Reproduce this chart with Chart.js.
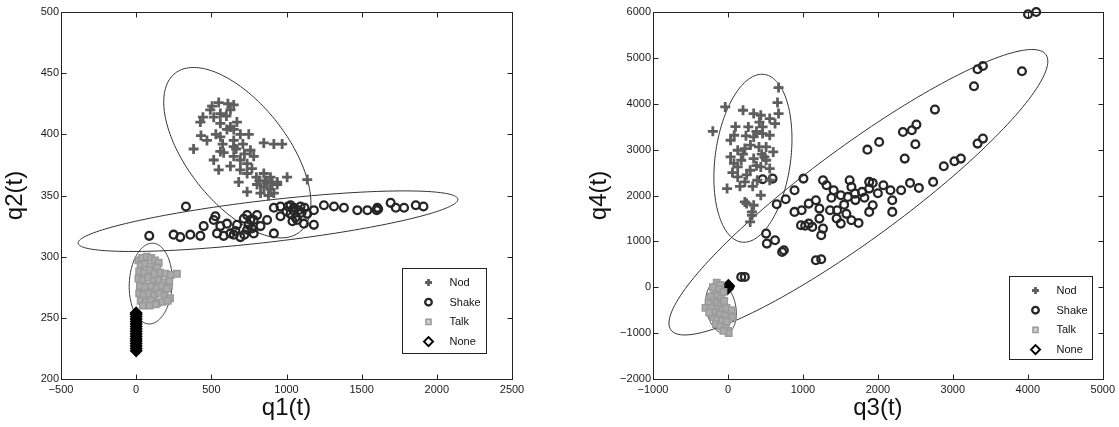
<!DOCTYPE html>
<html>
<head>
<meta charset="utf-8">
<title>q1-q2 / q3-q4 clusters</title>
<script src="https://cdn.jsdelivr.net/npm/chart.js@4.4.1/dist/chart.umd.min.js"></script>
<style>
    body { margin: 0; background: #fff; width: 1119px; height: 427px; overflow: hidden; position: relative; }
    .panel { position: absolute; top: 0; height: 427px; }
    #leftPanel { left: 0; width: 560px; }
    #rightPanel { left: 560px; width: 559px; }
</style>
</head>
<body>
<div class="panel" id="leftPanel"><canvas id="q12chart" width="560" height="427"></canvas></div>
<div class="panel" id="rightPanel"><canvas id="q34chart" width="559" height="427"></canvas></div>

<script>
"use strict";

/* ---- left panel: q1(t) vs q2(t) ---- */
var q1Ticks = [-500, 0, 500, 1000, 1500, 2000, 2500];
var q2Ticks = [200, 250, 300, 350, 400, 450, 500];

var nodQ12 = [
    [549, 426], [649, 424], [505, 423], [444, 414], [427, 410], [516, 414], [560, 409], [627, 406],
    [649, 404], [693, 400], [749, 400], [431, 399], [382, 388], [560, 398], [649, 395], [849, 393],
    [916, 392], [971, 392], [560, 386], [582, 385], [516, 379], [549, 371], [649, 382], [693, 379],
    [738, 376], [627, 374], [693, 371], [738, 368], [682, 361], [738, 353], [849, 368], [893, 365],
    [871, 361], [938, 361], [1004, 365], [849, 357], [893, 355], [827, 352], [938, 359], [916, 352],
    [1138, 363], [804, 359], [649, 390], [604, 404], [493, 420], [627, 420], [560, 417], [471, 395],
    [760, 387], [782, 382], [600, 415], [670, 410], [710, 392], [770, 372], [800, 365], [860, 362],
    [880, 350], [820, 362], [530, 400], [575, 392], [610, 425], [665, 388], [720, 384], [905, 360]
];
var shakeQ12 = [
    [331, 341], [527, 333], [738, 334], [916, 340], [960, 341], [1027, 342], [1049, 340], [1093, 341],
    [1182, 338], [1249, 342], [1316, 341], [1382, 340], [1471, 338], [1538, 338], [1604, 340], [1693, 344],
    [1727, 340], [1782, 340], [1860, 342], [1911, 341], [87, 317], [249, 318], [293, 316], [360, 318],
    [427, 317], [449, 325], [516, 330], [560, 325], [604, 327], [627, 319], [671, 326], [693, 316],
    [738, 322], [760, 330], [782, 319], [827, 325], [871, 330], [916, 319], [960, 333], [1027, 335],
    [1071, 330], [1116, 327], [1182, 326], [538, 319], [582, 317], [649, 318], [782, 330], [804, 334],
    [716, 331], [1049, 338], [1138, 335], [1000, 337], [1060, 332], [1100, 336], [1610, 339], [1600, 338],
    [750, 326], [770, 323], [720, 318], [1010, 341], [1080, 338], [1120, 340], [1040, 329], [660, 321]
];
var talkQ12 = [
    [15, 297], [40, 299], [70, 300], [100, 299], [125, 297], [150, 295], [30, 293], [60, 294],
    [95, 292], [140, 291], [20, 288], [55, 287], [90, 289], [120, 286], [160, 287], [195, 286],
    [230, 285], [271, 286], [15, 282], [45, 281], [80, 283], [115, 280], [150, 281], [185, 279],
    [220, 280], [25, 276], [60, 275], [100, 276], [135, 274], [170, 276], [205, 274], [20, 270],
    [50, 269], [85, 270], [120, 268], [155, 270], [190, 268], [225, 266], [30, 264], [65, 263],
    [100, 264], [140, 262], [175, 263], [210, 264], [45, 260], [90, 260], [130, 261]
];
var noneQ12 = [
    [0, 223], [0, 225], [0, 227], [0, 229], [0, 231], [0, 233], [0, 235], [0, 237],
    [0, 239], [0, 241], [0, 243], [0, 245], [0, 247], [0, 249], [0, 251], [0, 253], [0, 254]
];
/* covariance ellipses: centre x, centre y, conjugate half-axes (ux, uy) and (vx, vy), data units */
var ellipsesQ12 = [
    [673, 385, 413, -65, 263, 25],
    [877, 329, 1263, 18, 16, -17],
    [97, 278, 10, 33, 143, 0]
];

/* ---- right panel: q3(t) vs q4(t) ---- */
var q3Ticks = [-1000, 0, 1000, 2000, 3000, 4000, 5000];
var q4Ticks = [-2000, -1000, 0, 1000, 2000, 3000, 4000, 5000, 6000];

var nodQ34 = [
    [675, 4352], [-36, 3930], [-202, 3400], [661, 4025], [201, 3858], [343, 3785], [438, 3749], [557, 3676],
    [628, 3567], [675, 3785], [83, 3313], [343, 3276], [462, 3349], [557, 3313], [225, 3022], [414, 3058],
    [35, 2840], [177, 2768], [343, 2804], [486, 2840], [130, 2623], [296, 2550], [438, 2623], [557, 2586],
    [225, 2296], [391, 2332], [-12, 2150], [438, 2005], [225, 1860], [343, 1787], [320, 1642], [249, 1823],
    [320, 1569], [296, 1424], [130, 2986], [509, 3058], [272, 3494], [462, 3494], [35, 3204], [130, 2405],
    [557, 2332], [509, 2768], [604, 2949], [80, 2700], [200, 2900], [300, 3100], [380, 2650], [250, 2450],
    [160, 2200], [450, 2900], [100, 3500], [380, 3400], [60, 2500], [330, 2200], [420, 3600], [240, 3300]
];
var shakeQ34 = [
    [4003, 5950], [4112, 6001], [3922, 4708], [3282, 4381], [3330, 4751], [3401, 4824], [2761, 3872], [2334, 3385],
    [2453, 3422], [2514, 3545], [2500, 3117], [3330, 3131], [3401, 3240], [1860, 3000], [2017, 3167], [2358, 2804],
    [2879, 2637], [3021, 2746], [3107, 2804], [2737, 2296], [2547, 2165], [2429, 2274], [2310, 2114], [2168, 2114],
    [2073, 2223], [1931, 2274], [1884, 2150], [1789, 2078], [1694, 2041], [1647, 2187], [1599, 1969], [1505, 2005],
    [1410, 2114], [1315, 2223], [1268, 2332], [1173, 1896], [1220, 1714], [1078, 1823], [1007, 2368], [888, 2114],
    [770, 1918], [651, 1809], [595, 2368], [462, 2354], [1623, 2332], [1884, 2296], [2192, 1896], [1931, 1787],
    [1457, 1678], [888, 1642], [983, 1678], [509, 1170], [628, 1024], [519, 952], [723, 770], [746, 806],
    [974, 1351], [1078, 1387], [1125, 1315], [1244, 1133], [1268, 1279], [1173, 588], [1244, 610], [177, 225],
    [225, 225], [1505, 1387], [1647, 1460], [1742, 1402], [1884, 1642], [2192, 1642], [1220, 1496], [1362, 1678],
    [1550, 1800], [1580, 1600], [1700, 1900], [1450, 1500], [1380, 1950], [1820, 1950], [2000, 2050], [1030, 1340]
];
var talkQ34 = [
    [-150, 100], [-100, 50], [-200, 0], [-120, -50], [-60, -100], [-180, -150], [-230, -200], [-140, -200],
    [-90, -250], [-200, -300], [-260, -350], [-150, -350], [-100, -400], [-50, -300], [-300, -450], [-220, -450],
    [-130, -480], [-70, -500], [-180, -550], [-110, -600], [-40, -620], [-200, -650], [-140, -700], [-80, -720],
    [60, -650], [-20, -750], [-160, -800], [-100, -850], [-30, -900], [0, -950], [10, -1000], [-60, -950],
    [-250, -550], [-20, -450], [50, -500]
];
var noneQ34 = [[0, 0], [5, 40], [-5, -30], [10, 20]];
var ellipsesQ34 = [
    [333, 2812, 120, 1831, 507, 0],
    [1740, 2071, 2527, 2853, 0, -1242],
    [-93, -447, -45, 563, 200, 0]
];

Chart.defaults.font.family = "'Liberation Sans', Arial, Helvetica, sans-serif";
Chart.defaults.color = '#1a1a1a';

function minusLabel(v) {
    return v < 0 ? '\u2212' + Math.abs(v) : String(v);
}

/* ellipses, boxed frame with inward ticks, and the in-plot legend */
var matlabLook = {
    id: 'matlabLook',
    beforeDatasetsDraw: function (chart, args, opts) {
        var ctx = chart.ctx, xs = chart.scales.x, ys = chart.scales.y;
        ctx.save();
        ctx.strokeStyle = '#333';
        ctx.lineWidth = 1;
        opts.ellipses.forEach(function (e) {
            ctx.beginPath();
            for (var i = 0; i <= 180; i++) {
                var t = i / 180 * Math.PI * 2;
                var px = xs.getPixelForValue(e[0] + e[2] * Math.cos(t) + e[4] * Math.sin(t));
                var py = ys.getPixelForValue(e[1] + e[3] * Math.cos(t) + e[5] * Math.sin(t));
                if (i === 0) ctx.moveTo(px, py); else ctx.lineTo(px, py);
            }
            ctx.stroke();
        });
        ctx.restore();
    },
    afterDatasetsDraw: function (chart, args, opts) {
        var ctx = chart.ctx, a = chart.chartArea, xs = chart.scales.x, ys = chart.scales.y;
        var L = Math.round(a.left) + 0.5, R = Math.round(a.right) + 0.5;
        var T = Math.round(a.top) + 0.5, B = Math.round(a.bottom) + 0.5;
        ctx.save();
        ctx.strokeStyle = '#222';
        ctx.lineWidth = 1;
        ctx.strokeRect(L, T, R - L, B - T);
        ctx.beginPath();
        xs.ticks.forEach(function (tk) {
            var x = Math.round(xs.getPixelForValue(tk.value)) + 0.5;
            ctx.moveTo(x, B); ctx.lineTo(x, B - 5);
            ctx.moveTo(x, T); ctx.lineTo(x, T + 5);
        });
        ys.ticks.forEach(function (tk) {
            var y = Math.round(ys.getPixelForValue(tk.value)) + 0.5;
            ctx.moveTo(L, y); ctx.lineTo(L + 5, y);
            ctx.moveTo(R, y); ctx.lineTo(R - 5, y);
        });
        ctx.stroke();

        /* legend box */
        var lg = opts.legend;
        var bx = Math.round(a.right - lg.right - lg.width) + 0.5;
        var by = Math.round(a.bottom - lg.bottom - lg.height) + 0.5;
        ctx.fillStyle = '#fff';
        ctx.fillRect(bx, by, lg.width, lg.height);
        ctx.strokeRect(bx, by, lg.width, lg.height);
        ctx.font = "11px 'Liberation Sans', Arial, sans-serif";
        ctx.textBaseline = 'middle';
        chart.data.datasets.forEach(function (ds, i) {
            var y = by + 14 + i * 19.7;
            ctx.strokeStyle = ds.pointBorderColor;
            ctx.fillStyle = ds.legendFill;
            ctx.lineWidth = ds.pointBorderWidth;
            Chart.helpers.drawPoint(ctx, {
                pointStyle: ds.pointStyle,
                radius: ds.legendRadius,
                borderWidth: ds.pointBorderWidth,
                rotation: 0
            }, bx + 26, y);
            ctx.fillStyle = '#111';
            ctx.fillText(ds.label, bx + 47, y + 0.5);
        });
        ctx.restore();
    }
};

function clusterChart(canvasId, p) {
    var ctx = document.getElementById(canvasId).getContext('2d');
    return new Chart(ctx, {
        type: 'scatter',
        data: {
            datasets: [{
                label: 'Nod',
                data: p.nod,
                pointStyle: 'cross',
                pointRadius: 5,
                pointBorderWidth: 2.8,
                pointBorderColor: '#5e5e5e',
                pointBackgroundColor: '#5e5e5e',
                legendFill: '#5e5e5e',
                legendRadius: 3.5,
                clip: false
            }, {
                label: 'Shake',
                data: p.shake,
                pointStyle: 'circle',
                pointRadius: 3.9,
                pointBorderWidth: 2.3,
                pointBorderColor: '#262626',
                pointBackgroundColor: 'rgba(0,0,0,0)',
                legendFill: '#fff',
                legendRadius: 3.3,
                clip: false
            }, {
                label: 'Talk',
                data: p.talk,
                pointStyle: 'rect',
                pointRadius: 4.5,
                pointBorderWidth: 1.5,
                pointBorderColor: '#9a9a9a',
                pointBackgroundColor: '#ababab',
                legendFill: '#cfcfcf',
                legendRadius: 3.6,
                clip: false
            }, {
                label: 'None',
                data: p.none,
                pointStyle: 'rectRot',
                pointRadius: 5.2,
                pointBorderWidth: 2,
                pointBorderColor: '#000',
                pointBackgroundColor: '#000',
                legendFill: '#fff',
                legendRadius: 4.5,
                clip: false
            }]
        },
        options: {
            responsive: false,
            animation: false,
            events: [],
            layout: {
                padding: { top: 12, right: p.padRight, left: 0, bottom: 0 }
            },
            plugins: {
                legend: { display: false },
                tooltip: { enabled: false },
                matlabLook: { ellipses: p.ellipses, legend: p.legend }
            },
            scales: {
                x: {
                    type: 'linear',
                    min: p.xTicks[0],
                    max: p.xTicks[p.xTicks.length - 1],
                    grid: { display: false, drawTicks: false },
                    border: { display: false },
                    afterBuildTicks: function (axis) {
                        axis.ticks = p.xTicks.map(function (v) { return { value: v }; });
                    },
                    afterFit: function (axis) { axis.height = 48; },
                    ticks: {
                        autoSkip: false,
                        maxRotation: 0,
                        padding: 4,
                        font: { size: 11 },
                        callback: minusLabel
                    },
                    title: {
                        display: true,
                        text: p.xTitle,
                        font: { size: 24 },
                        color: '#111',
                        padding: { top: 0, bottom: 4 }
                    }
                },
                y: {
                    type: 'linear',
                    min: p.yTicks[0],
                    max: p.yTicks[p.yTicks.length - 1],
                    grid: { display: false, drawTicks: false },
                    border: { display: false },
                    afterBuildTicks: function (axis) {
                        axis.ticks = p.yTicks.map(function (v) { return { value: v }; });
                    },
                    afterFit: function (axis) { axis.width = p.axisLeft; },
                    ticks: {
                        autoSkip: false,
                        padding: 2,
                        font: { size: 11 },
                        callback: minusLabel
                    },
                    title: {
                        display: true,
                        text: p.yTitle,
                        font: { size: 24 },
                        color: '#111',
                        padding: { top: p.yTitlePad, bottom: 0 }
                    }
                }
            }
        },
        plugins: [matlabLook]
    });
}

document.addEventListener("DOMContentLoaded", function () {

    /* q1 / q2 */
    clusterChart('q12chart', {
        nod: nodQ12, shake: shakeQ12, talk: talkQ12, none: noneQ12,
        ellipses: ellipsesQ12,
        xTicks: q1Ticks, yTicks: q2Ticks,
        xTitle: 'q1(t)', yTitle: 'q2(t)',
        axisLeft: 61, padRight: 48, yTitlePad: 1,
        legend: { right: 26, bottom: 26, width: 84, height: 85 }
    });

    /* q3 / q4 */
    clusterChart('q34chart', {
        nod: nodQ34, shake: shakeQ34, talk: talkQ34, none: noneQ34,
        ellipses: ellipsesQ34,
        xTicks: q3Ticks, yTicks: q4Ticks,
        xTitle: 'q3(t)', yTitle: 'q4(t)',
        axisLeft: 93, padRight: 15, yTitlePad: 25,
        legend: { right: 11, bottom: 20, width: 83, height: 83 }
    });
});
</script>
</body>
</html>
